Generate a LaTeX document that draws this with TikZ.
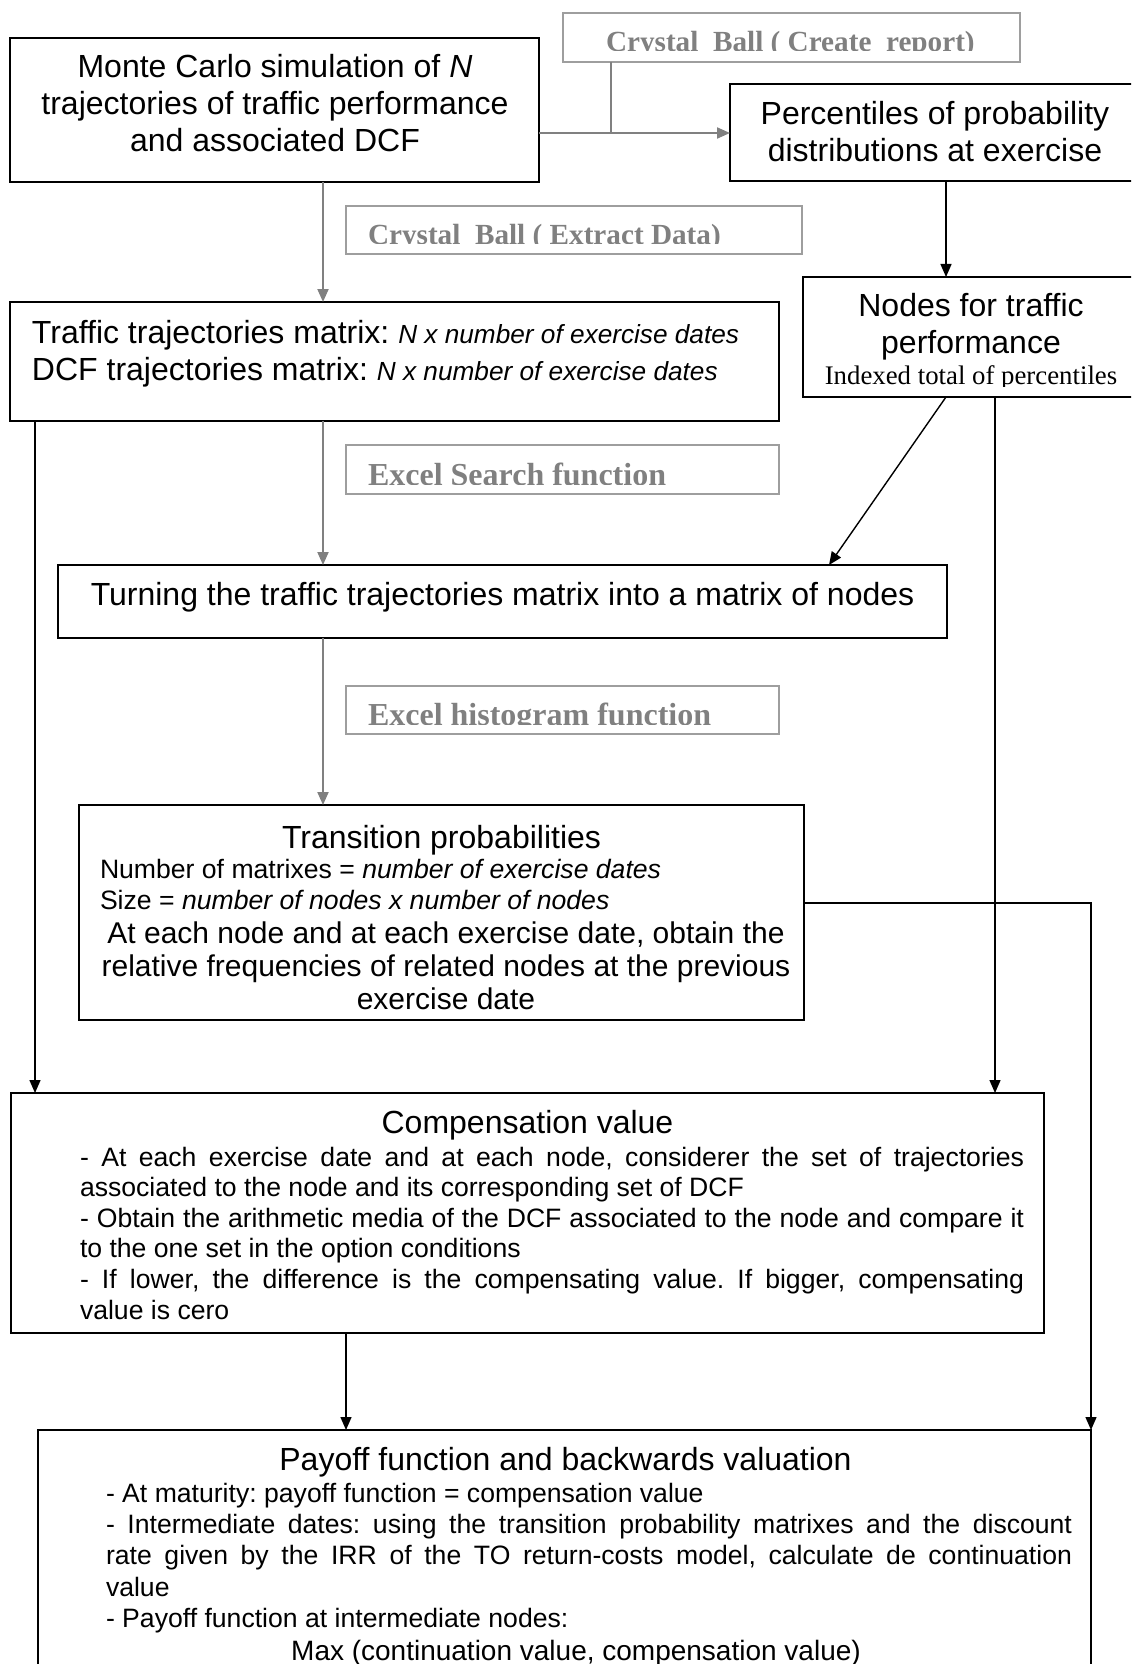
\documentclass[tikz,border=0pt]{standalone}
\usepackage{fontspec}
\setmainfont{Liberation Sans}
\newfontfamily\tmsfont{Liberation Serif}
\usetikzlibrary{arrows.meta,fit,calc}

\definecolor{lblgray}{gray}{0.5}
\definecolor{edgegray}{gray}{0.62}
\definecolor{linkgray}{gray}{0.5}

% interword space of the current font, without stretch
\newcommand\natsp{\spaceskip=\fontdimen2\font\relax}
% a line set to a given width by stretching its interword spaces
\newcommand\jline[2]{\makebox[#1][s]{\spaceskip=0pt\relax #2}}

\newcommand\headfont{\fontsize{16}{18.5}\selectfont}
\newcommand\itsmall{\fontsize{13.1}{18.5}\selectfont\itshape\natsp}
\newcommand\bodyfont{\fontsize{13.3}{15.5}\selectfont}
\newcommand\compfont{\fontsize{13.3}{15.3}\selectfont}
\newcommand\payfont{\fontsize{13.3}{15.7}\selectfont}
\newcommand\midfont{\fontsize{15}{16.5}\selectfont}

\tikzset{
  box/.style={draw=black, line width=1pt, inner sep=0pt, outer sep=0pt},
  graybox/.style={draw=edgegray, line width=1pt, inner sep=0pt, outer sep=0pt},
  txt/.style={inner sep=0pt, outer sep=0pt},
  lblsmall/.style={inner sep=0pt, outer sep=0pt, text=lblgray,
    font=\tmsfont\bfseries\fontsize{14.6}{18}\selectfont},
  lblbig/.style={inner sep=0pt, outer sep=0pt, text=lblgray,
    font=\tmsfont\bfseries\fontsize{16}{19}\selectfont},
  link/.style={draw=black, line width=0.7pt, -{Triangle[length=6.5pt,width=5.5pt]}},
  glink/.style={draw=linkgray, line width=1pt, -{Triangle[length=6.5pt,width=5.5pt]}},
  gplain/.style={draw=linkgray, line width=1pt},
}

\begin{document}
\frenchspacing
\begin{tikzpicture}[x=0.5pt,y=-0.5pt]
\useasboundingbox (0,0) rectangle (1131,1664);
\clip (0,0) rectangle (1131,1664);

% ---- main boxes ----
\node[box, fit={(10,38) (539,182)}] (mc) {};
\node[box, fit={(730,84) (1140,181)}] (pct) {};
\node[box, fit={(10,302) (779,421)}] (traj) {};
\node[box, fit={(803,277) (1140,397)}] (nodes) {};
\node[box, fit={(58,565) (947,638)}] (turn) {};
\node[box, fit={(79,805) (804,1020)}] (trans) {};
\node[box, fit={(11,1093) (1044,1333)}] (comp) {};
\node[box, fit={(38,1430) (1091,1700)}] (pay) {};

% ---- tool boxes (gray) ----
\node[graybox, fit={(563,13) (1020,62)}] (cb1) {};
\node[graybox, fit={(346,206) (802,254)}] (cb2) {};
\node[graybox, fit={(346,445) (779,494)}] (cb3) {};
\node[graybox, fit={(346,686) (779,734)}] (cb4) {};

% ---- tool labels, cut off at the bottom of their text frames ----
\begin{scope}
  \clip (563,13) rectangle (1020,51);
  \node[lblsmall, anchor=base west] (cb1T) at (606,52) {Crystal\ \ Ball ( Create\ \ report)};
\end{scope}
\begin{scope}
  \clip (346,206) rectangle (802,244);
  \node[lblsmall, anchor=base west] (cb2T) at (368,245) {Crystal\ \ Ball ( Extract Data)};
\end{scope}
\begin{scope}
  \clip (346,445) rectangle (779,484);
  \node[lblbig, anchor=base west] (cb3T) at (368,485) {Excel Search function};
\end{scope}
\begin{scope}
  \clip (346,686) rectangle (779,724);
  \node[lblbig, anchor=base west] (cb4T) at (368,725) {Excel histogram function};
\end{scope}

% ---- box texts ----
\node[txt, anchor=base, text width=300pt, align=center, font=\headfont] (mcT) at (275,78)
  {\natsp Monte Carlo simulation of \textit{N}\\trajectories of traffic performance\\and associated DCF};

\node[txt, anchor=base, text width=200pt, align=center, font=\headfont] (pctT) at (935,125)
  {\natsp Percentiles of probability\\distributions at exercise};

\node[txt, anchor=base west, text width=380pt, align=left, font=\headfont] (trajT) at (32,343)
  {\natsp Traffic trajectories matrix: {\itsmall N x number of exercise dates}\\
   DCF trajectories matrix: {\itsmall N x number of exercise dates}};

\node[txt, anchor=base, text width=160pt, align=center, font=\headfont] (nodesT) at (971,316)
  {\natsp Nodes for traffic\\performance};
\begin{scope}
  \clip (803,277) rectangle (1140,386);
  \node[txt, anchor=base, font=\tmsfont\fontsize{13.4}{16}\selectfont] (nodesS) at (971,384)
    {Indexed total of percentiles};
\end{scope}

\node[txt, anchor=base, font=\headfont] (turnT) at (502.5,605)
  {Turning the traffic trajectories matrix into a matrix of nodes};

\node[txt, anchor=base, font=\headfont] (transT) at (441.5,848) {Transition probabilities};
\node[txt, anchor=base west, text width=340pt, align=left, font=\bodyfont] (transL) at (100,878)
  {\natsp Number of matrixes = \textit{number of exercise dates}\\
   Size = \textit{number of nodes x number of nodes}};
\node[txt, anchor=base, text width=360pt, align=center, font=\midfont] (transC) at (446,943)
  {\natsp At each node and at each exercise date, obtain the\\
   relative frequencies of related nodes at the previous\\
   exercise date};

\node[txt, anchor=base, font=\headfont] (compT) at (527.5,1133) {Compensation value};
\node[txt, anchor=base west, text width=472pt, align=left, font=\compfont] (compB) at (80,1166)
  {\natsp\jline{472pt}{- At each exercise date and at each node, considerer the set of trajectories}\\
   associated to the node and its corresponding set of DCF\\
   \jline{472pt}{- Obtain the arithmetic media of the DCF associated to the node and compare it}\\
   to the one set in the option conditions\\
   \jline{472pt}{- If lower, the difference is the compensating value. If bigger, compensating}\\
   value is cero};

\node[txt, anchor=base, font=\headfont] (payT) at (565.5,1470) {Payoff function and backwards valuation};
\node[txt, anchor=base west, text width=483pt, align=left, font=\payfont] (payB) at (106,1502)
  {\natsp - At maturity: payoff function = compensation value\\
   \jline{483pt}{- Intermediate dates: using the transition probability matrixes and the discount}\\
   \jline{483pt}{rate given by the IRR of the TO return-costs model, calculate de continuation}\\
   value\\
   - Payoff function at intermediate nodes:};
\node[txt, anchor=base, font=\fontsize{14}{16}\selectfont] (payM) at (576,1660)
  {Max (continuation value, compensation value)};

% ---- connector columns and rows ----
\coordinate (gx) at (323,0);
\coordinate (jn) at (611,133);
\coordinate (px) at (946,0);
\coordinate (lx) at (35,0);
\coordinate (ds) at (946,0);
\coordinate (de) at (829,0);
\coordinate (rx) at (995,0);
\coordinate (ty) at (0,903);
\coordinate (cx) at (346,0);

% ---- gray (tool) connectors ----
\draw[glink] (mc.east |- jn) -- (pct.west |- jn);
\draw[gplain] (cb1.south -| jn) -- (jn);
\draw[glink] (mc.south -| gx) -- (traj.north -| gx);
\draw[glink] (traj.south -| gx) -- (turn.north -| gx);
\draw[glink] (turn.south -| gx) -- (trans.north -| gx);

% ---- black connectors ----
\draw[link] (pct.south -| px) -- (nodes.north -| px);
\draw[link] (traj.south -| lx) -- (comp.north -| lx);
\draw[link] (nodes.south -| ds) -- (turn.north -| de);
\draw[link] (nodes.south -| rx) -- (comp.north -| rx);
\draw[link] (trans.east |- ty) -| (pay.north east);
\draw[link] (comp.south -| cx) -- (pay.north -| cx);
\end{tikzpicture}
\end{document}
